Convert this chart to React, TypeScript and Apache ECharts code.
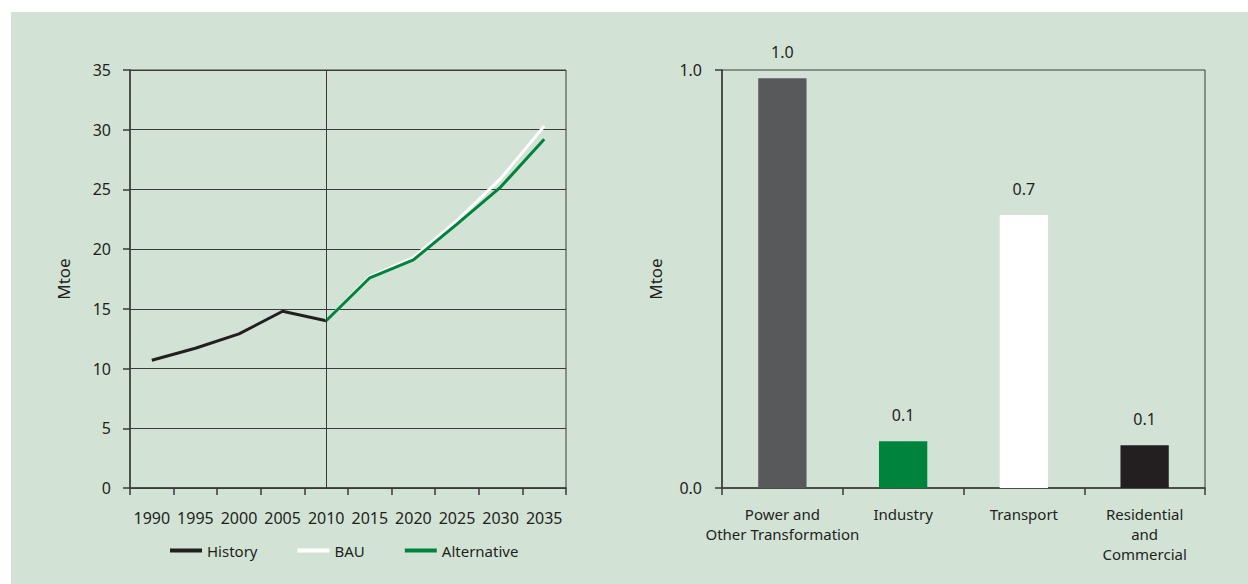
import React, { useEffect, useRef } from "react";
import * as echarts from "echarts";

const years = ["1990", "1995", "2000", "2005", "2010", "2015", "2020", "2025", "2030", "2035"];
const history = [10.7, 11.7, 12.9, 14.8, 14.0, null, null, null, null, null];
const bau = [null, null, null, null, 14.0, 17.7, 19.3, 22.4, 25.9, 30.3];
const alternative = [null, null, null, null, 14.0, 17.6, 19.1, 22.1, 25.2, 29.2];

const sectors = ["Power and\nOther Transformation", "Industry", "Transport", "Residential\nand\nCommercial"];
const sectorValues = [0.98, 0.112, 0.653, 0.102];
const sectorColors = ["#58595b", "#00843d", "#ffffff", "#231f20"];

const FONT = "Noto Sans";
const TEXT = "#231f20";
const LINE = "#3a3a3a";
const FS = 16;

export default function App() {
  const ref = useRef<HTMLDivElement>(null);
  useEffect(() => {
    if (!ref.current) return;
    const chart = echarts.init(ref.current, undefined, { renderer: "svg" });
    const axisCommon = {
      axisLine: { show: true, lineStyle: { color: LINE, width: 1.5 } },
      axisTick: { show: true, length: 7, lineStyle: { color: LINE, width: 1.5 } },
    };
    chart.setOption({
      animation: false,
      textStyle: { fontFamily: FONT, color: TEXT },
      grid: [
        { left: 130, top: 70, width: 436, height: 418, show: true, borderColor: LINE, borderWidth: 1, backgroundColor: "transparent" },
        { left: 722, top: 70, width: 483, height: 418, show: true, borderColor: LINE, borderWidth: 1, backgroundColor: "transparent" },
      ],
      legend: {
        data: ["History", "BAU", "Alternative"],
        left: 165,
        top: 538,
        icon: "rect",
        itemWidth: 32,
        itemHeight: 4,
        itemGap: 40,
        textStyle: { fontFamily: FONT, fontSize: 15, color: TEXT },
      },
      xAxis: [
        {
          type: "category",
          gridIndex: 0,
          data: years,
          boundaryGap: true,
          ...axisCommon,
          axisLabel: { margin: 22, fontSize: FS, color: TEXT, fontFamily: FONT, interval: 0 },
          splitLine: { show: false },
        },
        {
          type: "category",
          gridIndex: 1,
          data: sectors,
          boundaryGap: true,
          ...axisCommon,
          axisLabel: { margin: 16, fontSize: 15, lineHeight: 20, color: TEXT, fontFamily: FONT, interval: 0 },
          splitLine: { show: false },
        },
      ],
      yAxis: [
        {
          type: "value",
          gridIndex: 0,
          min: 0,
          max: 35,
          interval: 5,
          name: "Mtoe",
          nameLocation: "middle",
          nameRotate: 90,
          nameGap: 58,
          nameTextStyle: { fontSize: 17, color: TEXT, fontFamily: FONT },
          ...axisCommon,
          axisLabel: { margin: 19, fontSize: FS, color: TEXT, fontFamily: FONT },
          splitLine: { show: true, lineStyle: { color: LINE, width: 1 } },
        },
        {
          type: "value",
          gridIndex: 1,
          min: 0,
          max: 1,
          interval: 1,
          name: "Mtoe",
          nameLocation: "middle",
          nameRotate: 90,
          nameGap: 58,
          nameTextStyle: { fontSize: 17, color: TEXT, fontFamily: FONT },
          ...axisCommon,
          axisLabel: { margin: 20, fontSize: FS, color: TEXT, fontFamily: FONT, formatter: (v: number) => v.toFixed(1) },
          splitLine: { show: false },
        },
      ],
      series: [
        {
          name: "History",
          type: "line",
          xAxisIndex: 0,
          yAxisIndex: 0,
          data: history,
          symbol: "none",
          color: "#231f20",
          lineStyle: { width: 3, color: "#231f20" },
          markLine: {
            silent: true,
            symbol: "none",
            label: { show: false },
            lineStyle: { color: LINE, width: 1, type: "solid" },
            data: [{ xAxis: "2010" }],
          },
        },
        {
          name: "BAU",
          type: "line",
          xAxisIndex: 0,
          yAxisIndex: 0,
          data: bau,
          symbol: "none",
          color: "#ffffff",
          lineStyle: { width: 3, color: "#ffffff" },
        },
        {
          name: "Alternative",
          type: "line",
          xAxisIndex: 0,
          yAxisIndex: 0,
          data: alternative,
          symbol: "none",
          color: "#00843d",
          lineStyle: { width: 3, color: "#00843d" },
        },
        {
          name: "Sectors",
          type: "bar",
          xAxisIndex: 1,
          yAxisIndex: 1,
          barWidth: "40%",
          data: sectorValues.map((v, i) => ({ value: v, itemStyle: { color: sectorColors[i] } })),
          label: {
            show: true,
            position: "top",
            distance: 18,
            fontSize: FS,
            color: TEXT,
            fontFamily: FONT,
            formatter: (p: any) => Number(p.value).toFixed(1),
          },
        },
      ],
    });
    return () => chart.dispose();
  }, []);

  return (
    <div style={{ position: "absolute", left: 0, top: 0, width: 1248, height: 584, background: "#ffffff", overflow: "hidden" }}>
      <div style={{ position: "absolute", left: 11, top: 12, width: 1237, height: 572, background: "#d2e3d5" }} />
      <div ref={ref} style={{ position: "absolute", left: 0, top: 0, width: 1248, height: 584 }} />
    </div>
  );
}
